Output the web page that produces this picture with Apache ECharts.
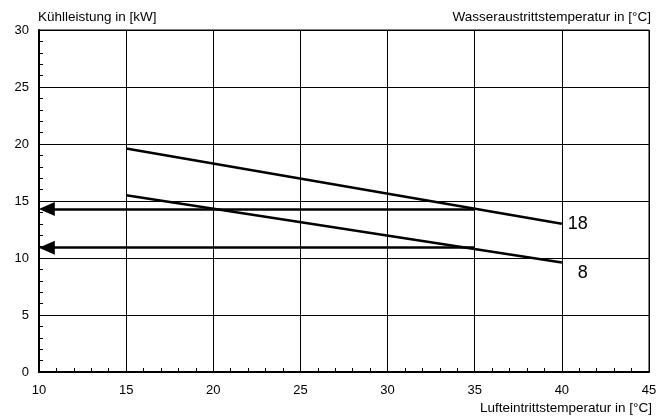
<!DOCTYPE html>
<html>
<head>
<meta charset="utf-8">
<script src="https://cdn.jsdelivr.net/npm/echarts@6/dist/echarts.min.js"></script>
<style>
  html, body { margin: 0; padding: 0; background: #fff; }
  #main { width: 666px; height: 417px; }
</style>
</head>
<body>
<div id="main"></div>
<script>
// Wasseraustrittstemperatur curves (Lufteintritt -> Kühlleistung)
var curveNames = ['18', '8'];
var curve18 = [[15, 19.6], [40, 13.0]];
var curve8 = [[15, 15.5], [40, 9.6]];
// read-off arrows at 35 °C
var arrowY = [14.3, 10.9];
var arrowFromX = 35;
var arrowToX = 10;

var xTitle = 'Lufteintrittstemperatur in [°C]';
var yTitle = 'Kühlleistung in [kW]';
var legendTitle = 'Wasseraustrittstemperatur in [°C]';

function initChart() {
    var myChart = echarts.init(document.getElementById('main'));
    var fontFam = '"Liberation Sans", Arial, sans-serif';

    var seriesObj = [];
    var curves = [curve18, curve8];
    var labelOffsets = [[-2, 0], [8, 10]];
    curves.forEach(function (c, i) {
        seriesObj.push({
            name: curveNames[i],
            type: 'line',
            data: c,
            symbol: 'none',
            lineStyle: { color: '#000', width: 2.5 },
            endLabel: {
                show: true,
                formatter: curveNames[i],
                offset: labelOffsets[i],
                color: '#000',
                fontSize: 18,
                fontFamily: fontFam
            },
            silent: true,
            z: 5
        });
    });

    arrowY.forEach(function (y) {
        seriesObj.push({
            type: 'line',
            data: [],
            markLine: {
                silent: true,
                symbol: ['none', 'triangle'],
                symbolSize: [14, 16],
                label: { show: false },
                lineStyle: { color: '#000', width: 2.5, type: 'solid' },
                data: [[{ coord: [arrowFromX, y] }, { coord: [arrowToX + 0.45, y] }]]
            },
            z: 4
        });
    });

    var option = {
        animation: false,
        backgroundColor: '#fff',
        grid: {
            left: 39,
            right: 17,
            top: 30,
            bottom: 45,
            show: true,
            borderColor: '#000',
            borderWidth: 1
        },
        graphic: [
            { type: 'text', left: 38, top: 10, style: { text: yTitle, fontSize: 13.5, fontFamily: fontFam, fill: '#000' } },
            { type: 'text', right: 15, top: 10, style: { text: legendTitle, fontSize: 13.5, fontFamily: fontFam, fill: '#000' } },
            { type: 'text', right: 14, top: 401, style: { text: xTitle, fontSize: 13.5, fontFamily: fontFam, fill: '#000' } }
        ],
        xAxis: {
            type: 'value',
            min: 10,
            max: 45,
            interval: 5,
            axisLine: { show: true, onZero: false, lineStyle: { color: '#000', width: 2 } },
            axisTick: { show: false, inside: true },
            minorTick: { show: true, splitNumber: 5, length: 4, lineStyle: { color: '#000' } },
            splitLine: { show: true, lineStyle: { color: '#000', width: 1 } },
            axisLabel: { color: '#000', fontSize: 13, fontFamily: fontFam, margin: 12 }
        },
        yAxis: {
            type: 'value',
            min: 0,
            max: 30,
            interval: 5,
            axisLine: { show: true, lineStyle: { color: '#000', width: 2 } },
            axisTick: { show: false, inside: true },
            minorTick: { show: true, splitNumber: 5, length: 4, lineStyle: { color: '#000' } },
            splitLine: { show: true, lineStyle: { color: '#000', width: 1 } },
            axisLabel: { color: '#000', fontSize: 13, fontFamily: fontFam, margin: 10 }
        },
        series: seriesObj
    };

    myChart.setOption(option);
}

initChart();
</script>
</body>
</html>
